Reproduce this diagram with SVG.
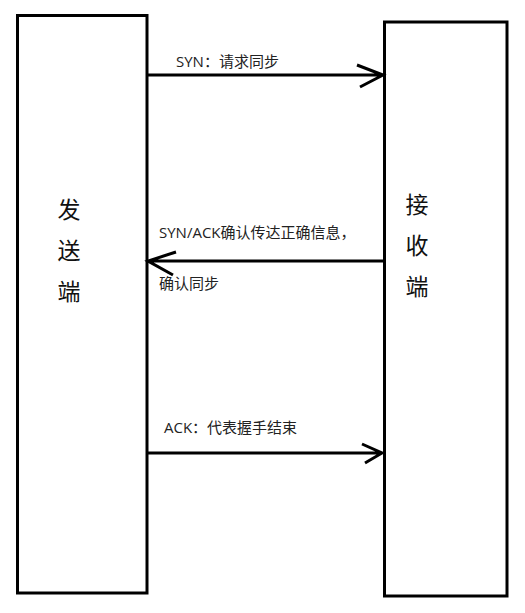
<svg xmlns="http://www.w3.org/2000/svg" width="525" height="613" viewBox="0 0 525 613">
<style>
.box{fill:#fff;stroke:#000;stroke-width:3}
.ln{stroke:#000;stroke-width:3;fill:none}
.big{font-family:"Noto Sans CJK SC","Noto Sans",sans-serif;font-size:23px;fill:#111;text-anchor:middle}
.lbl{font-family:"Open Sans","Noto Sans CJK SC",sans-serif;font-size:15px;fill:#222}
</style>
<rect width="525" height="613" fill="#fff"/>
<g id="sender">
<rect class="box" x="17.5" y="15.5" width="129.5" height="577.5"/>
<text class="big" x="69" y="218">发</text>
<text class="big" x="69" y="259">送</text>
<text class="big" x="69" y="300">端</text>
</g>
<g id="receiver">
<rect class="box" x="384.5" y="22" width="122.5" height="574"/>
<text class="big" x="417" y="213">接</text>
<text class="big" x="417" y="254">收</text>
<text class="big" x="417" y="295">端</text>
</g>
<g id="connectors">
<path class="ln" d="M147 75 H383 M357 65 L383 75 L360 87"/>
<path class="ln" d="M384 261 H148 M176 252 L148 261 L173 275"/>
<path class="ln" d="M147 453 H382 M362 444 L382 453 L365 463"/>
</g>
<g id="labels">
<text class="lbl" x="176" y="67">SYN：请求同步</text>
<text class="lbl" x="159" y="238">SYN/ACK确认传达正确信息，</text>
<text class="lbl" x="159" y="289">确认同步</text>
<text class="lbl" x="164" y="433">ACK：代表握手结束</text>
</g>
</svg>
